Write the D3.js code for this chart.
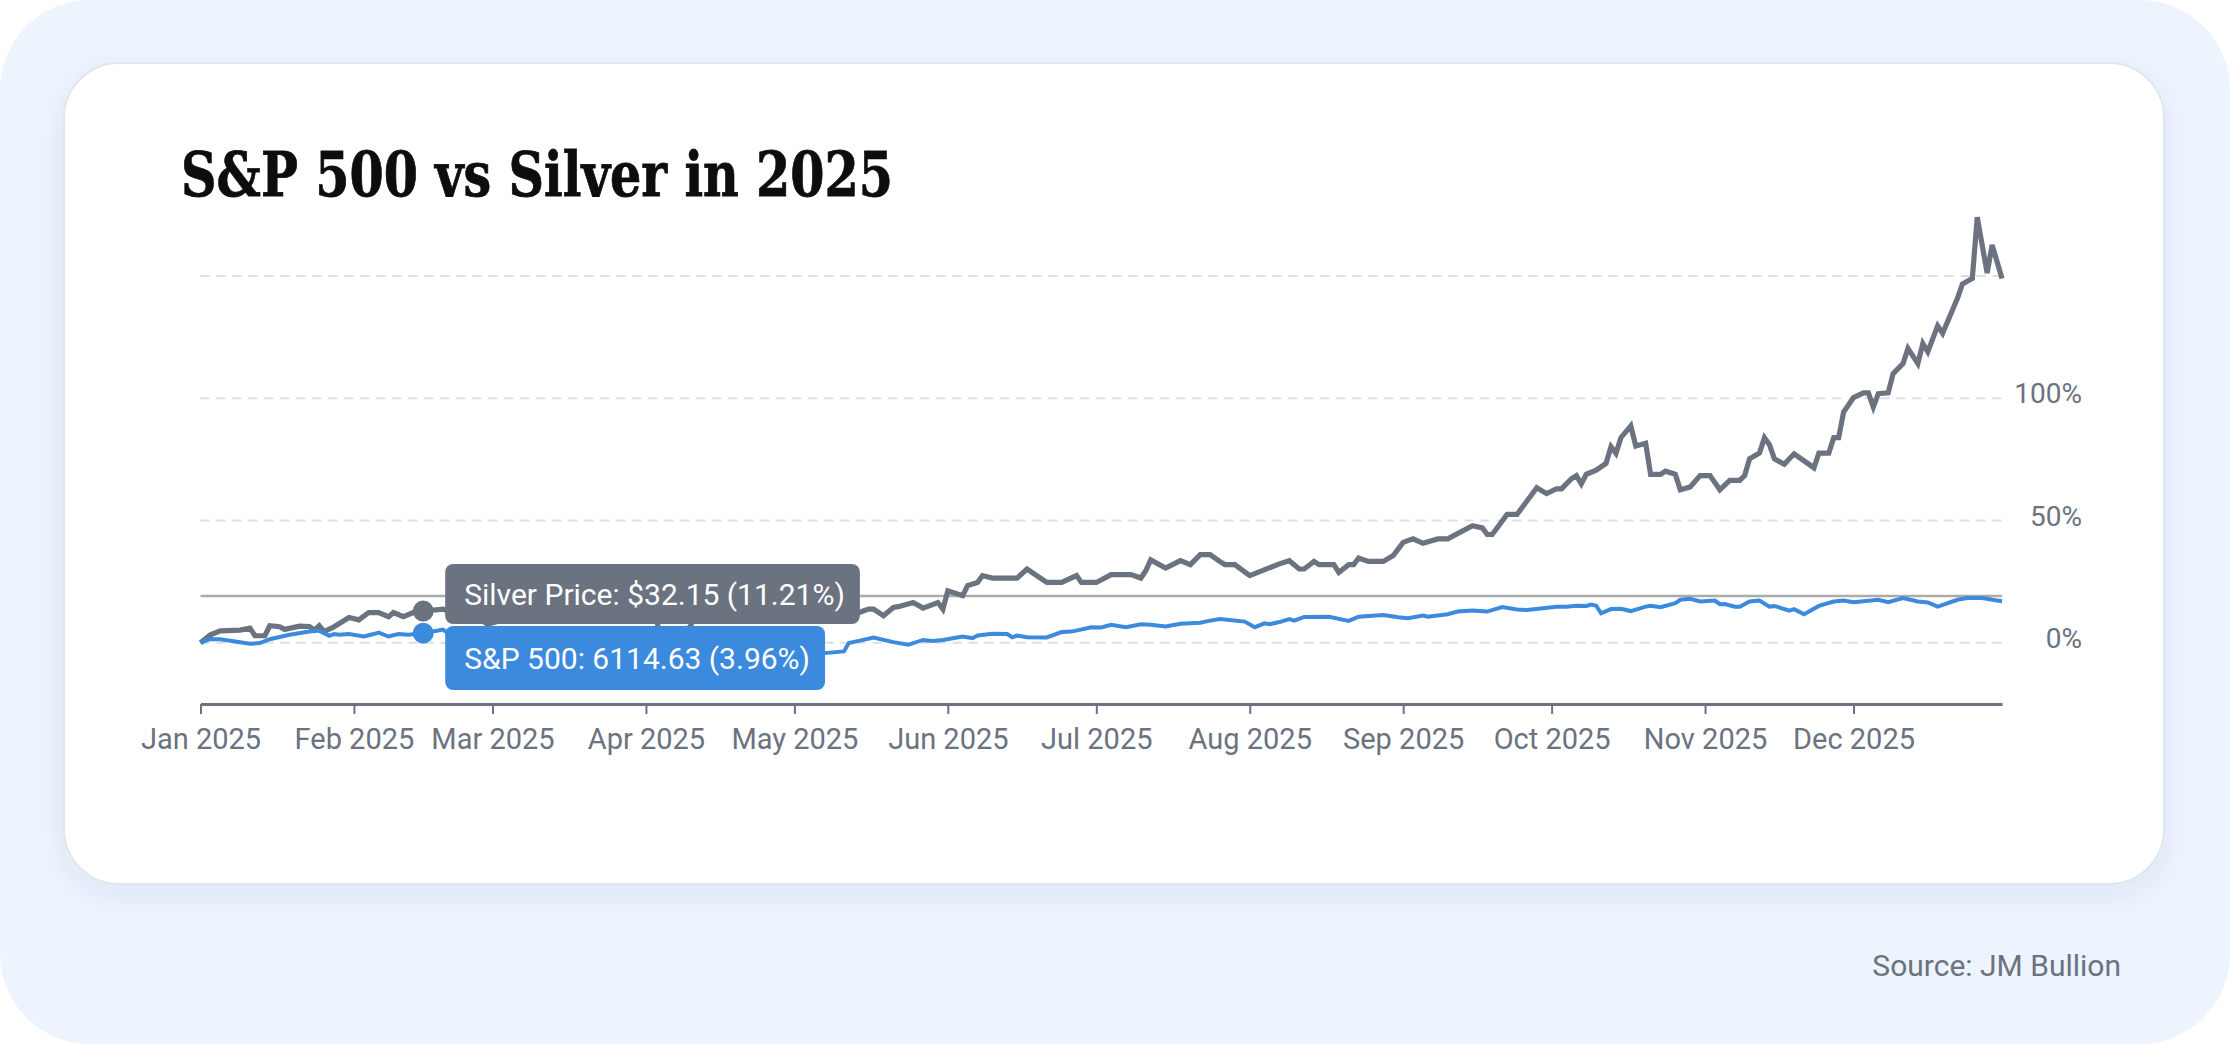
<!DOCTYPE html>
<html>
<head>
<meta charset="utf-8">
<script src="https://cdn.jsdelivr.net/npm/d3@7"></script>
<style>
  html, body { margin: 0; padding: 0; background: #fff; }
  svg { display: block; }
</style>
</head>
<body>
<svg id="chart"></svg>
<script>
// values, % change since the start of the year
const silverDates = ['2025-01-01','2025-01-03','2025-01-05','2025-01-09','2025-01-11','2025-01-12','2025-01-14','2025-01-15','2025-01-17','2025-01-18','2025-01-21','2025-01-23','2025-01-24','2025-01-25','2025-01-26','2025-01-28','2025-01-31','2025-02-02','2025-02-04','2025-02-06','2025-02-08','2025-02-09','2025-02-11','2025-02-13','2025-02-15','2025-02-19','2025-02-21','2025-02-24','2025-02-26','2025-02-28','2025-03-03','2025-03-06','2025-03-10','2025-03-13','2025-03-17','2025-03-19','2025-03-21','2025-03-26','2025-03-28','2025-04-01','2025-04-03','2025-04-04','2025-04-07','2025-04-08','2025-04-10','2025-04-11','2025-04-15','2025-04-17','2025-04-21','2025-04-23','2025-04-25','2025-04-29','2025-05-01','2025-05-05','2025-05-07','2025-05-09','2025-05-14','2025-05-16','2025-05-17','2025-05-19','2025-05-21','2025-05-22','2025-05-25','2025-05-27','2025-05-30','2025-05-31','2025-06-01','2025-06-04','2025-06-05','2025-06-07','2025-06-08','2025-06-10','2025-06-15','2025-06-17','2025-06-21','2025-06-24','2025-06-27','2025-06-28','2025-07-01','2025-07-04','2025-07-08','2025-07-10','2025-07-11','2025-07-12','2025-07-15','2025-07-18','2025-07-20','2025-07-22','2025-07-24','2025-07-26','2025-07-27','2025-07-29','2025-08-01','2025-08-07','2025-08-09','2025-08-11','2025-08-12','2025-08-14','2025-08-15','2025-08-18','2025-08-19','2025-08-21','2025-08-22','2025-08-23','2025-08-25','2025-08-28','2025-08-30','2025-09-01','2025-09-03','2025-09-05','2025-09-08','2025-09-10','2025-09-15','2025-09-17','2025-09-18','2025-09-19','2025-09-22','2025-09-24','2025-09-28','2025-09-30','2025-10-02','2025-10-03','2025-10-05','2025-10-06','2025-10-07','2025-10-08','2025-10-10','2025-10-12','2025-10-13','2025-10-14','2025-10-15','2025-10-17','2025-10-18','2025-10-20','2025-10-21','2025-10-23','2025-10-24','2025-10-26','2025-10-27','2025-10-29','2025-10-31','2025-11-02','2025-11-04','2025-11-06','2025-11-08','2025-11-09','2025-11-10','2025-11-12','2025-11-13','2025-11-14','2025-11-15','2025-11-17','2025-11-19','2025-11-23','2025-11-24','2025-11-26','2025-11-27','2025-11-28','2025-11-29','2025-12-01','2025-12-03','2025-12-04','2025-12-05','2025-12-06','2025-12-08','2025-12-09','2025-12-11','2025-12-12','2025-12-14','2025-12-15','2025-12-16','2025-12-18','2025-12-19','2025-12-22','2025-12-23','2025-12-25','2025-12-26','2025-12-28','2025-12-29','2025-12-31'];
const silverPct = [0,3.3,4.9,5.2,6.0,2.9,2.9,7.0,6.6,5.5,6.8,6.7,5.2,7.0,4.6,6.6,10.4,9.4,12.4,12.4,10.7,12.4,10.7,12.4,13.0,13.8,12.1,12.8,10.3,7.6,9.3,12.8,12.4,14.1,16.9,16.2,14.1,19.0,18.0,17.3,10.3,2.4,3.8,2.7,6.9,11.7,12.4,12.4,12.8,16.2,14.5,14.1,10.7,12.8,13.5,13.1,12.4,13.8,13.8,11.1,14.5,14.8,16.5,14.2,16.5,13.8,21.3,19.3,23.4,24.7,27.5,26.5,26.5,30.2,24.7,24.7,27.5,24.7,24.7,27.9,27.9,26.5,29.5,33.9,30.6,33.6,32.0,36.1,36.1,33.2,32.0,32.0,27.5,32.3,33.6,30.2,30.2,33.3,32.0,32.0,28.8,32.0,32.0,34.7,33.3,33.3,35.7,41.1,42.5,40.7,42.5,42.5,47.9,47.0,44.3,44.3,52.5,52.5,63.4,61.0,63.0,63.0,67.1,68.4,65.0,68.9,70.6,73.4,80.2,77.5,83.9,88.7,80.5,81.6,68.9,68.9,70.2,68.9,62.6,63.7,68.4,68.4,62.6,66.4,66.4,68.4,75.3,77.6,83.9,81.1,75.3,73.0,77.3,71.6,77.6,77.6,83.9,83.9,94.4,100.3,102.2,102.2,96.4,101.9,102.2,110.1,114.2,120.4,114.2,122.4,119.0,129.6,126.6,140.9,146.7,149.0,174.0,151.2,162.7,149.0];

const spxDates = ['2025-01-01','2025-01-03','2025-01-05','2025-01-07','2025-01-11','2025-01-13','2025-01-15','2025-01-19','2025-01-23','2025-01-25','2025-01-27','2025-01-28','2025-01-29','2025-01-31','2025-02-03','2025-02-05','2025-02-06','2025-02-08','2025-02-10','2025-02-12','2025-02-15','2025-02-19','2025-02-20','2025-02-21','2025-02-24','2025-02-25','2025-02-27','2025-02-28','2025-03-03','2025-03-04','2025-03-05','2025-03-06','2025-03-07','2025-03-10','2025-03-11','2025-03-12','2025-03-13','2025-03-14','2025-03-17','2025-03-18','2025-03-19','2025-03-21','2025-03-24','2025-03-25','2025-03-26','2025-03-28','2025-03-31','2025-04-02','2025-04-03','2025-04-04','2025-04-07','2025-04-08','2025-04-09','2025-04-10','2025-04-11','2025-04-14','2025-04-16','2025-04-17','2025-04-21','2025-04-22','2025-04-23','2025-04-24','2025-04-25','2025-04-29','2025-04-30','2025-05-01','2025-05-02','2025-05-05','2025-05-06','2025-05-07','2025-05-11','2025-05-12','2025-05-14','2025-05-17','2025-05-21','2025-05-24','2025-05-27','2025-05-29','2025-05-31','2025-06-04','2025-06-06','2025-06-07','2025-06-10','2025-06-13','2025-06-14','2025-06-15','2025-06-17','2025-06-21','2025-06-24','2025-06-26','2025-06-30','2025-07-02','2025-07-04','2025-07-07','2025-07-10','2025-07-12','2025-07-15','2025-07-18','2025-07-22','2025-07-24','2025-07-26','2025-07-31','2025-08-02','2025-08-04','2025-08-05','2025-08-07','2025-08-09','2025-08-10','2025-08-12','2025-08-17','2025-08-21','2025-08-23','2025-08-28','2025-08-31','2025-09-02','2025-09-05','2025-09-06','2025-09-10','2025-09-12','2025-09-15','2025-09-18','2025-09-21','2025-09-24','2025-09-26','2025-10-02','2025-10-04','2025-10-06','2025-10-08','2025-10-09','2025-10-10','2025-10-11','2025-10-13','2025-10-15','2025-10-17','2025-10-20','2025-10-21','2025-10-23','2025-10-26','2025-10-27','2025-10-29','2025-10-31','2025-11-03','2025-11-04','2025-11-05','2025-11-07','2025-11-08','2025-11-10','2025-11-12','2025-11-14','2025-11-15','2025-11-18','2025-11-19','2025-11-21','2025-11-24','2025-11-27','2025-11-29','2025-12-01','2025-12-06','2025-12-08','2025-12-11','2025-12-14','2025-12-16','2025-12-18','2025-12-22','2025-12-24','2025-12-27','2025-12-30','2025-12-31'];
const spxPct = [0,1.6,1.5,0.9,-0.4,-0.1,1.5,3.3,4.6,5.0,2.9,3.6,3.3,3.6,2.6,3.6,4.2,2.6,3.6,3.3,3.96,5.4,4.0,2.2,1.7,1.25,-0.3,1.2,-0.5,-1.8,-0.7,-2.4,-1.9,-4.5,-5.3,-4.8,-6.1,-4.1,-3.5,-4.5,-3.5,-3.6,-1.9,-1.8,-2.9,-5.1,-4.6,-3.6,-8.2,-13.7,-13.9,-15.3,-7.2,-10.4,-8.8,-8.1,-10.3,-10.2,-12.3,-10.1,-8.6,-6.7,-6.1,-5.5,-5.3,-4.7,-3.3,-3.9,-4.7,-4.2,-3.5,-0.1,0.8,2.2,0.3,-0.8,1.2,0.8,1.2,2.6,1.9,3.0,3.7,3.6,2.3,3.0,2.3,2.2,4.4,4.6,6.4,6.3,7.4,6.4,7.6,7.4,6.7,7.8,8.2,9.1,9.7,8.7,6.4,8.0,7.6,8.5,9.7,9.1,10.6,10.7,9.0,10.7,11.4,10.5,10.1,11.2,10.7,11.7,12.8,13.2,12.8,14.6,13.6,13.4,14.8,14.8,15.2,15.1,15.7,15.2,12.1,13.8,13.9,13.0,14.8,15.2,14.6,16.2,17.6,18.0,16.9,17.3,15.8,15.9,14.8,14.8,16.9,17.3,14.8,15.1,13.2,13.8,11.7,15.1,16.9,17.3,16.6,17.6,16.6,18.3,16.9,16.5,14.8,17.6,18.3,18.3,17.3,17.0];

const gridTicks = [0, 50, 100, 150];
const labelTicks = [0, 50, 100];
const crosshairPct = 19.2;

const tooltipDate = '2025-02-15';
const silverTipPrice = 32.15;
const silverTipPct = 11.21;
const spxTipPrice = 6114.63;
const spxTipPct = 3.96;

const titleText = 'S&P 500 vs Silver in 2025';
const sourceText = 'Source: JM Bullion';

const width = 2230;
const height = 1044;
const grey = '#6b7280';
const blue = '#3b8ade';
const font = 'Roboto, "Noto Sans", sans-serif';

const parse = d3.timeParse('%Y-%m-%d');
const silver = silverDates.map((d, i) => ({ date: parse(d), v: silverPct[i] }));
const spx = spxDates.map((d, i) => ({ date: parse(d), v: spxPct[i] }));

const svg = d3.select('#chart')
  .attr('width', width)
  .attr('height', height);

const defs = svg.append('defs');
const shadow = defs.append('filter')
  .attr('id', 'shadow')
  .attr('x', '-5%').attr('y', '-5%')
  .attr('width', '110%').attr('height', '120%');
shadow.append('feDropShadow')
  .attr('dx', 0).attr('dy', 10)
  .attr('stdDeviation', 14)
  .attr('flood-color', '#1e3a8a')
  .attr('flood-opacity', 0.07);

// page background and card
svg.append('rect')
  .attr('width', width).attr('height', height)
  .attr('rx', 90)
  .attr('fill', '#edf4fd');

svg.append('rect')
  .attr('x', 64).attr('y', 63)
  .attr('width', 2100).attr('height', 821)
  .attr('rx', 55)
  .attr('fill', '#fff')
  .attr('stroke', '#e2e6ec')
  .attr('stroke-width', 2)
  .attr('filter', 'url(#shadow)');

svg.append('text')
  .attr('x', 181).attr('y', 196)
  .attr('font-family', '"DejaVu Serif", serif')
  .attr('font-weight', 'bold')
  .attr('font-size', 61)
  .attr('textLength', 712)
  .attr('lengthAdjust', 'spacingAndGlyphs')
  .attr('fill', '#0d0d0d')
  .attr('stroke', '#0d0d0d')
  .attr('stroke-width', 0.8)
  .text(titleText);

const x = d3.scaleTime()
  .domain([parse('2025-01-01'), parse('2025-12-31')])
  .range([200.5, 2002]);

const y = d3.scaleLinear()
  .domain([-25, 150])
  .range([704, 276]);

// grid
svg.append('g')
  .selectAll('line')
  .data(gridTicks)
  .enter().append('line')
  .attr('x1', x.range()[0])
  .attr('x2', x.range()[1])
  .attr('y1', d => y(d))
  .attr('y2', d => y(d))
  .attr('stroke', '#dedede')
  .attr('stroke-width', 2)
  .attr('stroke-dasharray', '9 7');

svg.append('g')
  .selectAll('text')
  .data(labelTicks)
  .enter().append('text')
  .attr('x', 2082)
  .attr('y', d => y(d) + 5)
  .attr('text-anchor', 'end')
  .attr('font-family', font)
  .attr('font-size', 28)
  .attr('fill', grey)
  .text(d => d + '%');

// hover guide
svg.append('line')
  .attr('x1', x.range()[0])
  .attr('x2', x.range()[1])
  .attr('y1', y(crosshairPct))
  .attr('y2', y(crosshairPct))
  .attr('stroke', '#ababab')
  .attr('stroke-width', 2.5);

// x axis
const xAxis = svg.append('g')
  .attr('transform', `translate(0, ${y.range()[0]})`)
  .call(d3.axisBottom(x)
    .ticks(d3.timeMonth.every(1))
    .tickFormat(d3.timeFormat('%b %Y'))
    .tickSize(10)
    .tickSizeOuter(0)
    .tickPadding(14));

xAxis.select('.domain')
  .attr('stroke', grey)
  .attr('stroke-width', 3);
xAxis.selectAll('.tick line')
  .attr('stroke', grey)
  .attr('stroke-width', 2);
xAxis.selectAll('.tick text')
  .attr('font-family', font)
  .attr('font-size', 29)
  .attr('fill', grey);

// lines
const line = d3.line()
  .x(d => x(d.date))
  .y(d => y(d.v));

svg.append('path')
  .datum(silver)
  .attr('fill', 'none')
  .attr('stroke', grey)
  .attr('stroke-width', 5.2)
  .attr('d', line);

svg.append('path')
  .datum(spx)
  .attr('fill', 'none')
  .attr('stroke', blue)
  .attr('stroke-width', 4)
  .attr('d', line);

// tooltip
const tipDate = parse(tooltipDate);
const tipX = x(tipDate);
const silverAt = silver.find(d => +d.date === +tipDate).v;
const spxAt = spx.find(d => +d.date === +tipDate).v;

svg.append('circle')
  .attr('cx', tipX).attr('cy', y(silverAt))
  .attr('r', 10.5)
  .attr('fill', grey);
svg.append('circle')
  .attr('cx', tipX).attr('cy', y(spxAt))
  .attr('r', 10.5)
  .attr('fill', blue);

const tips = [
  { label: `Silver Price: $${silverTipPrice.toFixed(2)} (${silverTipPct.toFixed(2)}%)`, color: grey, top: 564, h: 60 },
  { label: `S&P 500: ${spxTipPrice.toFixed(2)} (${spxTipPct.toFixed(2)}%)`, color: blue, top: 626, h: 64 }
];

tips.forEach(t => {
  const g = svg.append('g');
  const rect = g.append('rect')
    .attr('x', tipX + 22)
    .attr('y', t.top)
    .attr('height', t.h)
    .attr('rx', 8)
    .attr('fill', t.color);
  const txt = g.append('text')
    .attr('x', tipX + 41)
    .attr('y', t.top + t.h / 2 + 10.5)
    .attr('font-family', font)
    .attr('font-size', 30)
    .attr('fill', '#fff')
    .text(t.label);
  rect.attr('width', txt.node().getComputedTextLength() + 34);
});

svg.append('text')
  .attr('x', 2121).attr('y', 976)
  .attr('text-anchor', 'end')
  .attr('font-family', font)
  .attr('font-size', 30)
  .attr('fill', grey)
  .text(sourceText);
</script>
</body>
</html>
